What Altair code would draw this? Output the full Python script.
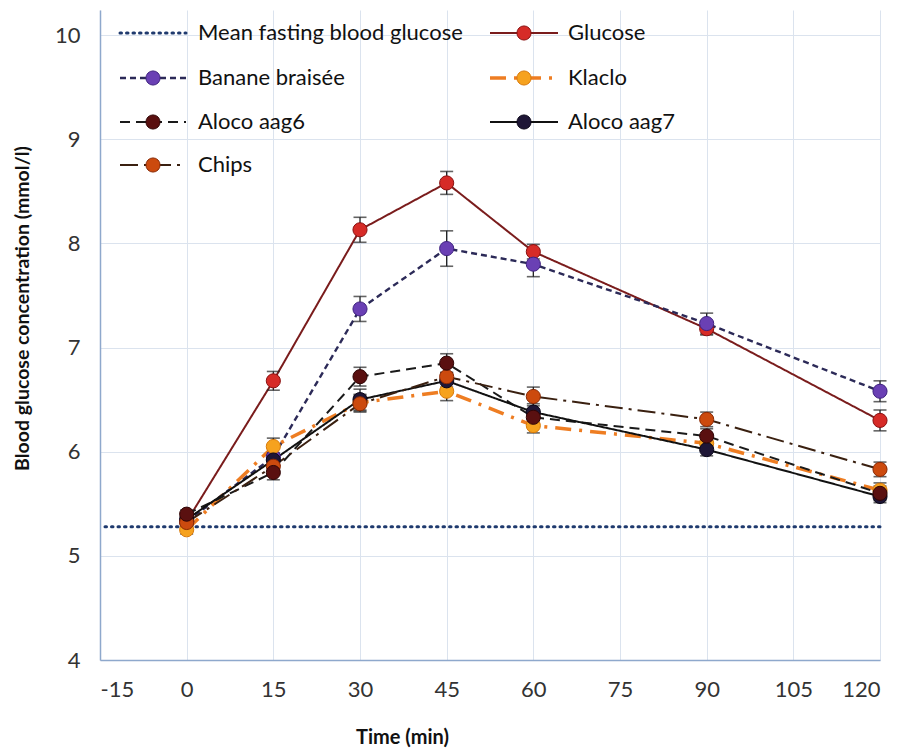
import altair as alt
import pandas as pd

# ---------------- data ----------------
time = [0, 15, 30, 45, 60, 90, 120]
mean_fasting = 5.28

series_names = ["Glucose", "Banane braisée", "Klaclo", "Aloco aag6", "Aloco aag7", "Chips"]
glucose = [5.33, 6.68, 8.13, 8.58, 7.92, 7.18, 6.30]
banane = [5.33, 5.95, 7.37, 7.95, 7.80, 7.23, 6.58]
klaclo = [5.25, 6.05, 6.47, 6.58, 6.25, 6.08, 5.63]
aloco6 = [5.40, 5.80, 6.72, 6.85, 6.33, 6.15, 5.60]
aloco7 = [5.35, 5.92, 6.50, 6.68, 6.38, 6.02, 5.57]
chips = [5.32, 5.86, 6.46, 6.72, 6.53, 6.31, 5.83]

glucose_err = [0.04, 0.09, 0.12, 0.11, 0.07, 0.06, 0.10]
banane_err = [0.04, 0.08, 0.12, 0.17, 0.12, 0.10, 0.10]
klaclo_err = [0.04, 0.08, 0.08, 0.09, 0.07, 0.07, 0.07]
aloco6_err = [0.04, 0.07, 0.09, 0.09, 0.08, 0.07, 0.07]
aloco7_err = [0.04, 0.07, 0.10, 0.08, 0.08, 0.06, 0.06]
chips_err = [0.04, 0.08, 0.08, 0.10, 0.09, 0.07, 0.07]

values = [glucose, banane, klaclo, aloco6, aloco7, chips]
errors = [glucose_err, banane_err, klaclo_err, aloco6_err, aloco7_err, chips_err]

x_ticks = [-15, 0, 15, 30, 45, 60, 75, 90, 105, 120]
y_ticks = [4, 5, 6, 7, 8, 9, 10]

# ---------------- styles ----------------
style = {
    "Glucose":        dict(line="#7a1c1c", marker="#d62b27", edge="#8a1010", dash=[1, 0], width=2.0),
    "Banane braisée": dict(line="#2c2a58", marker="#6a40b4", edge="#3f2280", dash=[6, 4], width=2.4),
    "Klaclo":         dict(line="#ee7d22", marker="#f6a21e", edge="#d97a0a", dash=[16, 8, 3, 8], width=3.5),
    "Aloco aag6":     dict(line="#1a1a1a", marker="#5a1010", edge="#300505", dash=[10, 6], width=2.0),
    "Aloco aag7":     dict(line="#111111", marker="#1e1636", edge="#0a0618", dash=[1, 0], width=2.0),
    "Chips":          dict(line="#3a2010", marker="#cc4a0e", edge="#8a2a05", dash=[18, 6, 3, 6], width=2.0),
}
FONT = "Lato"

rows = []
for name, vals, errs in zip(series_names, values, errors):
    for t, v, e in zip(time, vals, errs):
        rows.append({"series": name, "time": t, "value": v, "lo": v - e, "hi": v + e})
df = pd.DataFrame(rows)

x_scale = alt.Scale(domain=[-15, 120], nice=False, zero=False)
y_scale = alt.Scale(domain=[4, 10.24], nice=False, zero=False)

x_axis = alt.Axis(values=x_ticks, title="Time (min)", grid=True, gridColor="#dbe3ee",
                  gridWidth=1, ticks=False, domainColor="#8ea8cc", domainWidth=1.5,
                  labelExpr="'' + datum.value",
                  labelFont=FONT, labelFontSize=22, labelColor="#333333", labelPadding=19,
                  titleFont=FONT, titleFontSize=20, titleFontWeight="bold", titleColor="#111111",
                  titleX=302, titleY=77, titleAlign="center", titleBaseline="middle")
y_axis = alt.Axis(values=y_ticks, title="Blood glucose concentration (mmol/l)", grid=True,
                  gridColor="#dbe3ee", gridWidth=1, ticks=False, domainColor="#8ea8cc",
                  domainWidth=1.5, labelFont=FONT, labelFontSize=22, labelColor="#333333",
                  labelPadding=20, titleFont=FONT, titleFontSize=19.5, titleFontWeight="bold",
                  titleColor="#111111", titleX=-78, titleY=298, titleAlign="center",
                  titleBaseline="middle")


def X(field):
    return alt.X(f"{field}:Q", scale=x_scale, axis=x_axis)


def Y(field):
    return alt.Y(f"{field}:Q", scale=y_scale, axis=y_axis)


layers = []

# mean fasting dotted line
fast_df = pd.DataFrame({"value": [mean_fasting]})
layers.append(
    alt.Chart(fast_df).mark_rule(color="#1f3a6e", strokeWidth=3, strokeDash=[1.5, 5],
                                 strokeCap="round").encode(y=Y("value"))
)

# series lines
for name in series_names:
    s = style[name]
    sub = df[df["series"] == name]
    layers.append(
        alt.Chart(sub).mark_line(color=s["line"], strokeWidth=s["width"], strokeDash=s["dash"])
        .encode(x=X("time"), y=Y("value"))
    )

# error bars
for name in series_names:
    sub = df[df["series"] == name]
    layers.append(
        alt.Chart(sub).mark_errorbar(color="#222222", thickness=1.3,
                                     ticks={"size": 13, "thickness": 1.6, "color": "#222222"})
        .encode(x=X("time"), y=Y("lo"), y2="hi:Q")
    )

# markers
point_order = ["Glucose", "Banane braisée", "Klaclo", "Aloco aag7", "Chips", "Aloco aag6"]
for name in point_order:
    s = style[name]
    sub = df[df["series"] == name]
    layers.append(
        alt.Chart(sub).mark_point(filled=True, shape="circle", size=200, opacity=1,
                                  fill=s["marker"], stroke=s["edge"], strokeWidth=1)
        .encode(x=X("time"), y=Y("value"))
    )

# ---------------- manual legend ----------------
legend_entries = ["Mean fasting blood glucose"] + series_names
col_line = [(20, 86), (390, 458)]
col_text = [98, 468]
row_y = [23, 68, 112, 155]
for i, name in enumerate(legend_entries):
    c, r = i % 2, i // 2
    x0, x1 = col_line[c]
    yy = row_y[r]
    one = pd.DataFrame({"label": [name]})
    if name == "Mean fasting blood glucose":
        layers.append(alt.Chart(one).mark_rule(color="#1f3a6e", strokeWidth=3, strokeDash=[1.5, 5],
                                               strokeCap="round")
                      .encode(x=alt.value(x0), x2=alt.value(x1), y=alt.value(yy)))
    else:
        s = style[name]
        layers.append(alt.Chart(one).mark_rule(color=s["line"], strokeWidth=s["width"],
                                               strokeDash=s["dash"])
                      .encode(x=alt.value(x0), x2=alt.value(x1), y=alt.value(yy)))
        layers.append(alt.Chart(one).mark_point(filled=True, shape="circle", size=200, opacity=1,
                                                fill=s["marker"], stroke=s["edge"], strokeWidth=1)
                      .encode(x=alt.value((x0 + x1) / 2), y=alt.value(yy)))
    layers.append(alt.Chart(one).mark_text(align="left", baseline="middle", font=FONT,
                                           fontSize=22, color="#111111")
                  .encode(x=alt.value(col_text[c]), y=alt.value(yy), text="label:N"))

chart = alt.layer(*layers).properties(
    width=780, height=650,
    autosize=alt.AutoSizeParams(type="none"),
    padding={"left": 92, "top": 2, "right": 13, "bottom": 94},
    background="white",
).configure_view(stroke=None)

chart.save("out.html", embed_options={"renderer": "svg", "actions": False})
